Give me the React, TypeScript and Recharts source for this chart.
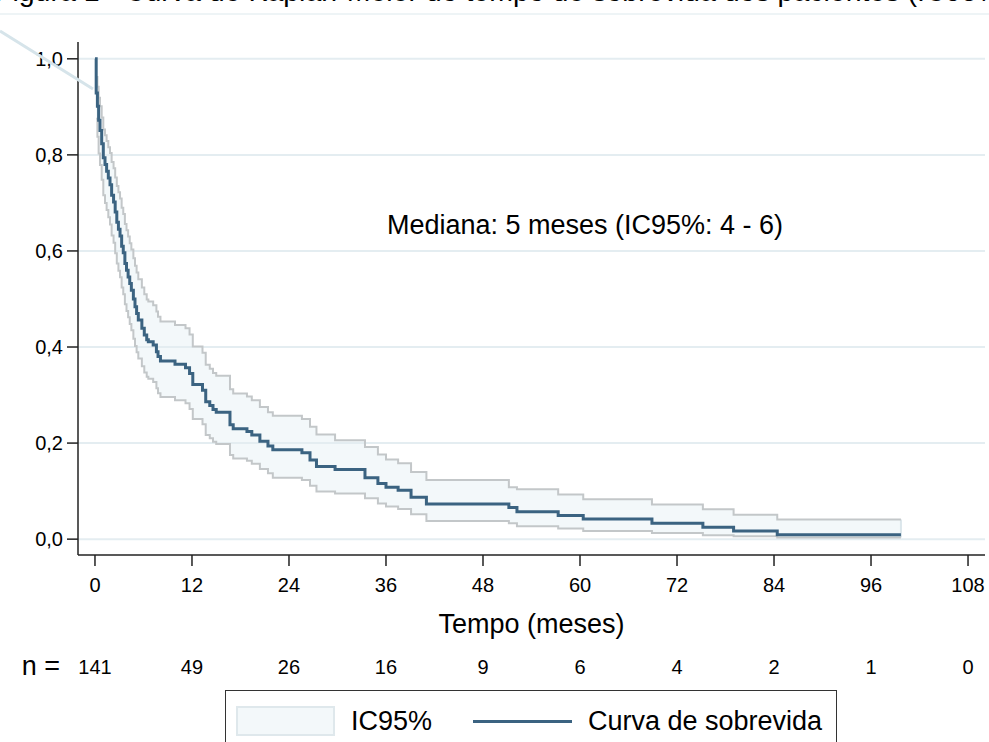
import React from "react";
import {
  ComposedChart,
  Line,
  Area,
  XAxis,
  YAxis,
  ReferenceLine,
} from "recharts";

const times = [
  0.0, 0.15, 0.3, 0.45, 0.62, 0.83, 1.03, 1.24, 1.44, 1.65, 1.86, 2.06, 2.3, 2.5, 2.7, 2.9, 3.1, 3.3, 3.5,
  3.7, 3.9, 4.1, 4.3, 4.5, 4.75, 4.95, 5.15, 5.36, 5.8, 6.1, 6.4, 6.6, 7.2, 7.6, 7.8, 8.1, 9.9, 11.2, 11.7,
  12.1, 13.3, 13.7, 14.2, 14.6, 15.0, 16.7, 17.1, 18.8, 19.4, 20.4, 21.4, 22.0, 25.6, 26.6, 27.4, 29.7,
  33.4, 35.0, 36.0, 37.5, 39.1, 41.0, 51.2, 52.2, 57.3, 60.4, 68.9, 75.2, 79.0, 84.4, 99.7,
];
const survival = [
  1.0, 0.929, 0.901, 0.872, 0.851, 0.823, 0.794, 0.78, 0.766, 0.752, 0.738, 0.716, 0.702, 0.681, 0.66,
  0.645, 0.631, 0.61, 0.596, 0.574, 0.56, 0.546, 0.532, 0.518, 0.5, 0.484, 0.47, 0.456, 0.439, 0.425,
  0.415, 0.411, 0.404, 0.39, 0.38, 0.371, 0.364, 0.357, 0.345, 0.322, 0.31, 0.286, 0.278, 0.27, 0.264,
  0.238, 0.23, 0.224, 0.217, 0.204, 0.194, 0.186, 0.18, 0.165, 0.151, 0.145, 0.128, 0.116, 0.108, 0.102,
  0.087, 0.073, 0.066, 0.057, 0.049, 0.042, 0.033, 0.025, 0.017, 0.009, 0.009,
];
const lowerCI: (number | null)[] = [
  null, 0.875, 0.838, 0.803, 0.779, 0.748, 0.716, 0.7, 0.685, 0.67, 0.655, 0.632, 0.617, 0.595, 0.574,
  0.559, 0.545, 0.524, 0.51, 0.489, 0.475, 0.462, 0.448, 0.435, 0.417, 0.402, 0.389, 0.376, 0.36, 0.347,
  0.338, 0.334, 0.327, 0.314, 0.304, 0.296, 0.289, 0.283, 0.271, 0.25, 0.239, 0.217, 0.21, 0.203, 0.198,
  0.175, 0.168, 0.163, 0.157, 0.146, 0.137, 0.128, 0.123, 0.111, 0.099, 0.095, 0.085, 0.074, 0.068, 0.063,
  0.052, 0.038, 0.033, 0.027, 0.022, 0.017, 0.013, 0.008, 0.006, 0.0035, 0.0035,
];
const upperCI: (number | null)[] = [
  null, 0.962, 0.942, 0.919, 0.901, 0.878, 0.853, 0.841, 0.829, 0.816, 0.804, 0.785, 0.772, 0.753, 0.735,
  0.722, 0.709, 0.69, 0.677, 0.656, 0.643, 0.63, 0.616, 0.603, 0.585, 0.569, 0.555, 0.541, 0.524, 0.51,
  0.499, 0.495, 0.487, 0.474, 0.463, 0.453, 0.446, 0.439, 0.426, 0.401, 0.388, 0.363, 0.355, 0.346, 0.34,
  0.312, 0.303, 0.297, 0.289, 0.275, 0.264, 0.257, 0.25, 0.234, 0.218, 0.206, 0.192, 0.176, 0.166, 0.158,
  0.14, 0.123, 0.108, 0.104, 0.093, 0.083, 0.072, 0.062, 0.051, 0.041, 0.041,
];

const xTicks = [0, 12, 24, 36, 48, 60, 72, 84, 96, 108];
const yTicks = [0, 0.2, 0.4, 0.6, 0.8, 1.0];
const atRisk = [141, 49, 26, 16, 9, 6, 4, 2, 1, 0];
const seriesNames = { band: "IC95%", survival: "Curva de sobrevida" };
const titleText = "Figura 1 - Curva de Kaplan-Meier do tempo de sobrevida dos pacientes (IC95%)";
const medianText = "Mediana: 5 meses (IC95%: 4 - 6)";

const data = times.map((t, i) => ({
  t,
  s: survival[i],
  lo: lowerCI[i],
  up: upperCI[i],
  band: lowerCI[i] != null ? [lowerCI[i], upperCI[i]] : undefined,
}));

const FONT = "'Liberation Sans', Arial, Helvetica, sans-serif";
const LINE_COLOR = "#3b6381";
const CI_COLOR = "#c3c7c9";
const FILL_COLOR = "#f3f8fa";
const GRID_COLOR = "#e4edf1";

const last = data.length - 1;

export default function App() {
  return (
    <div style={{ position: "absolute", left: 0, top: 0, width: 989, height: 742, overflow: "hidden", background: "#fff", fontFamily: FONT }}>
      <ComposedChart
        width={989}
        height={742}
        data={data}
        margin={{ top: 42, right: 4, left: 0, bottom: 52 }}
      >
        <XAxis
          xAxisId={0}
          type="number"
          dataKey="t"
          domain={[-2.1, 110.1]}
          ticks={xTicks}
          allowDataOverflow
          height={85}
          tickSize={11}
          tickMargin={12}
          stroke="#222"
          strokeWidth={1.5}
          tick={{ fontSize: 20, fill: "#000", fontFamily: FONT }}
          label={{ value: "Tempo (meses)", position: "insideTop", offset: 59, fontSize: 27, fill: "#000", fontFamily: FONT }}
        />
        <XAxis
          xAxisId="n"
          type="number"
          dataKey="t"
          domain={[-2.1, 110.1]}
          ticks={xTicks}
          allowDataOverflow
          height={50}
          axisLine={false}
          tickLine={false}
          tickSize={0}
          tickMargin={20}
          tickFormatter={(v: number) => String(atRisk[xTicks.indexOf(v)] ?? "")}
          tick={{ fontSize: 20, fill: "#000", fontFamily: FONT }}
          label={{ value: "n =", position: "left", offset: 18, fontSize: 27, fill: "#000", fontFamily: FONT }}
        />
        <YAxis
          type="number"
          domain={[-0.033, 1.035]}
          ticks={yTicks}
          allowDataOverflow
          width={78}
          tickSize={11}
          tickMargin={4}
          stroke="#222"
          strokeWidth={1.5}
          tickFormatter={(v: number) => v.toFixed(1).replace(".", ",")}
          tick={{ fontSize: 20, fill: "#000", fontFamily: FONT }}
        />
        {yTicks.map((v) => (
          <ReferenceLine key={v} y={v} stroke={GRID_COLOR} strokeWidth={2} />
        ))}
        <Area
          dataKey="band"
          type="stepAfter"
          fill={FILL_COLOR}
          fillOpacity={1}
          stroke="none"
          name={seriesNames.band}
          isAnimationActive={false}
        />
        <ReferenceLine
          segment={[
            { x: data[last].t, y: data[last].lo as number },
            { x: data[last].t, y: data[last].up as number },
          ]}
          stroke="#dbe6eb"
          strokeWidth={2}
        />
        <Line dataKey="lo" type="stepAfter" stroke={CI_COLOR} strokeWidth={2} dot={false} isAnimationActive={false} legendType="none" />
        <Line dataKey="up" type="stepAfter" stroke={CI_COLOR} strokeWidth={2} dot={false} isAnimationActive={false} legendType="none" />
        <Line
          dataKey="s"
          type="stepAfter"
          stroke={LINE_COLOR}
          strokeWidth={3}
          dot={false}
          name={seriesNames.survival}
          isAnimationActive={false}
        />
      </ComposedChart>

      <svg width={989} height={742} style={{ position: "absolute", left: 0, top: 0, pointerEvents: "none" }}>
        <line x1={0} y1={14} x2={989} y2={14} stroke="#e8f0f3" strokeWidth={1.5} />
        <line x1={0} y1={31} x2={93} y2={89} stroke="#d6e4ea" strokeWidth={3} />
        <text x={1012} y={1} textAnchor="end" fontSize={28.5} fontFamily={FONT} fill="#000">
          {titleText}
        </text>
        <text x={585} y={234} textAnchor="middle" fontSize={27} fontFamily={FONT} fill="#000">
          {medianText}
        </text>
      </svg>

      <div
        style={{
          position: "absolute",
          left: 225,
          top: 690,
          width: 612,
          height: 70,
          border: "1.5px solid #333",
          boxSizing: "border-box",
          background: "#fff",
        }}
      >
        <div style={{ position: "absolute", left: 10, top: 15, width: 99, height: 30, background: FILL_COLOR, border: "2px solid #dfe8ec", boxSizing: "border-box" }} />
        <div style={{ position: "absolute", left: 125, top: 13, fontSize: 27, lineHeight: "34px", color: "#000", whiteSpace: "nowrap" }}>
          {seriesNames.band}
        </div>
        <div style={{ position: "absolute", left: 247, top: 29, width: 99, height: 3, background: LINE_COLOR }} />
        <div style={{ position: "absolute", left: 362, top: 13, fontSize: 27, lineHeight: "34px", color: "#000", whiteSpace: "nowrap" }}>
          {seriesNames.survival}
        </div>
      </div>
    </div>
  );
}
